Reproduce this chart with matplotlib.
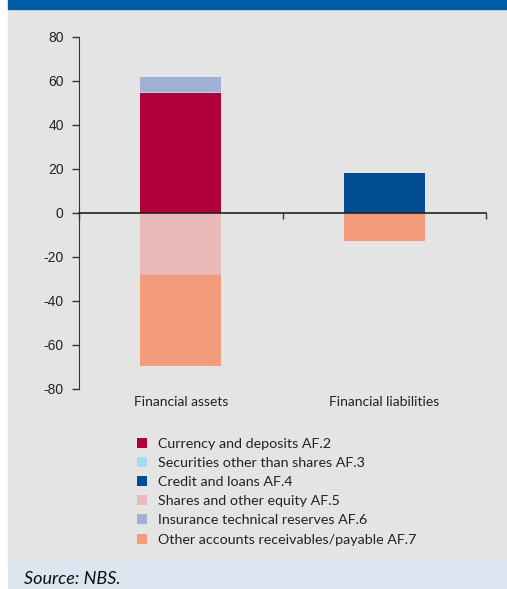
import matplotlib
matplotlib.use("Agg")
import matplotlib.pyplot as plt
from matplotlib.patches import Rectangle, Patch
import numpy as np

# Financial account flows, EUR millions
categories = ["Financial assets", "Financial liabilities"]
series_names = [
    "Currency and deposits AF.2",
    "Securities other than shares AF.3",
    "Credit and loans AF.4",
    "Shares and other equity AF.5",
    "Insurance technical reserves AF.6",
    "Other accounts receivables/payable AF.7",
]
currency_deposits = [54.5, 0.0]
securities = [0.6, 0.0]
credit_loans = [0.0, 18.3]
shares_equity = [-28.4, 0.0]
insurance_reserves = [6.9, 0.0]
other_accounts = [-41.3, -12.9]
y_ticks = [-80, -60, -40, -20, 0, 20, 40, 60, 80]

colors = ["#B0003A", "#A6DCF2", "#004C93", "#E8B9B9", "#A2B0D5", "#F39C7B"]
series_values = [currency_deposits, securities, credit_loans,
                 shares_equity, insurance_reserves, other_accounts]

label_font = ["Lato", "DejaVu Sans"]
plt.rcParams["font.family"] = ["Liberation Sans", "DejaVu Sans"]

W, H = 507, 589
fig = plt.figure(figsize=(W / 100, H / 100), dpi=100)
fig.patch.set_facecolor("white")

# panel background, header band and source band
fig.patches.append(Rectangle((8 / W, 28 / H), 1 - 8 / W, (H - 8.5 - 28) / H,
                             transform=fig.transFigure, color="#E4E4E4", zorder=-2))
fig.patches.append(Rectangle((8 / W, 0), 1 - 8 / W, 28 / H,
                             transform=fig.transFigure, color="#DCE6F0", zorder=-2))
fig.patches.append(Rectangle((8 / W, 1 - 8.5 / H), 1 - 8 / W, 8.5 / H,
                             transform=fig.transFigure, color="#005CA5", zorder=-2))

ax = fig.add_axes([79 / W, (H - 389) / H, 407 / W, 352 / H])
ax.set_facecolor("none")

x = np.arange(len(categories)) + 0.5
width = 0.40
pos_base = np.zeros(len(categories))
neg_base = np.zeros(len(categories))
for vals, col in zip(series_values, colors):
    v = np.array(vals, dtype=float)
    bottoms = np.where(v >= 0, pos_base, neg_base)
    ax.bar(x, v, width, bottom=bottoms, color=col, linewidth=0, zorder=2)
    pos_base += np.where(v >= 0, v, 0)
    neg_base += np.where(v < 0, v, 0)

ax.set_xlim(0, len(categories))
ax.set_ylim(-80, 80)
ax.set_yticks(y_ticks)
ax.set_yticklabels([str(t) for t in y_ticks], fontsize=10, color="#222222")
ax.tick_params(axis="y", length=5, width=1, pad=6, color="#333333")

for s in ["top", "right"]:
    ax.spines[s].set_visible(False)
ax.spines["left"].set_color("#333333")
ax.spines["bottom"].set_position(("data", 0))
ax.spines["bottom"].set_color("#222222")
ax.spines["bottom"].set_linewidth(1.2)
ax.spines["bottom"].set_zorder(3)
ax.set_xticks(np.arange(len(categories) + 1))
ax.set_xticklabels([])
ax.tick_params(axis="x", length=4, width=1, direction="out", color="#333333")

for xi, name in zip(x, categories):
    ax.text(xi, -83, name, ha="center", va="top",
            fontsize=10, family=label_font, color="#222222")

handles = [Patch(facecolor=c, edgecolor="none") for c in colors]
fig.legend(handles, series_names, loc="upper left",
           bbox_to_anchor=(131 / W, 1 - 432 / H), frameon=False,
           prop={"family": label_font, "size": 10.3}, labelcolor="#222222",
           handlelength=0.7, handleheight=0.7, handletextpad=0.8,
           labelspacing=0.5, borderaxespad=0)

fig.text(24 / W, 10 / H, "Source: NBS.", fontsize=13, style="italic",
         family=label_font, color="#111111", ha="left", va="center")

fig.savefig("out.png", dpi=100)
